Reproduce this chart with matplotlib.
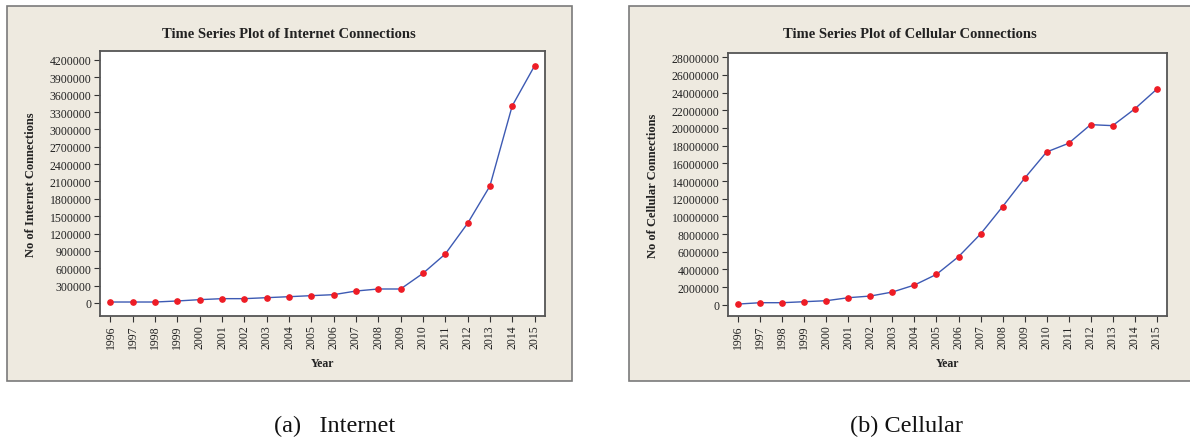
import matplotlib
matplotlib.use("Agg")
import matplotlib.pyplot as plt
from matplotlib.patches import Rectangle
from matplotlib.ticker import FuncFormatter

years = list(range(1996, 2016))
internet = [17000, 17000, 17000, 35000, 58000, 75000, 75000, 92000, 109000, 127000,
            144000, 207000, 242000, 242000, 512000, 846000, 1375000, 2020000, 3406000, 4097000]
cellular = [75000, 226000, 226000, 340000, 453000, 792000, 981000, 1434000, 2226000, 3434000,
            5434000, 8000000, 11094000, 14302000, 17283000, 18264000, 20377000, 20264000, 22151000, 24377000]

titles = ["Time Series Plot of Internet Connections", "Time Series Plot of Cellular Connections"]
ylabels = ["No of Internet Connections", "No of Cellular Connections"]
captions = ["(a)   Internet", "(b) Cellular"]

W, H = 1190, 439
plt.rcParams['font.family'] = ['Liberation Serif', 'DejaVu Serif']
fig = plt.figure(figsize=(W / 100, H / 100), dpi=100)
fig.patch.set_facecolor('white')

def rect(x0, y0, x1, y1):
    return [x0 / W, 1 - y1 / H, (x1 - x0) / W, (y1 - y0) / H]

BG = '#EEEAE0'
panels = [(7, 7, 572, 382), (629, 7, 1196, 382)]
axes_px = [(100, 52, 545, 317), (728, 54, 1167, 317)]
ylims = [(-224700, 4355000), (-1279000, 28487000)]
ysteps = [300000, 2000000]
ymaxs = [4200000, 28000000]
title_x = [289, 910]
caption_x = [335, 906]
ylabel_x = [31, 653]
data = [internet, cellular]

for i in range(2):
    px0, py0, px1, py1 = panels[i]
    fig.patches.append(Rectangle((px0 / W, 1 - py1 / H), (px1 - px0) / W, (py1 - py0) / H,
                                 transform=fig.transFigure, facecolor=BG,
                                 edgecolor='#7a7a7a', linewidth=1.2, zorder=-10))
    ax = fig.add_axes(rect(*axes_px[i]))
    ax.set_zorder(5)
    ax.set_facecolor('white')
    ax.plot(years, data[i], color='#3d5ab3', linewidth=1.0, zorder=2)
    ax.plot(years, data[i], linestyle='none', marker='o', markersize=3.8,
            color='#ee1c25', markeredgecolor='#ee1c25', zorder=3)
    ax.set_xlim(years[0] - 0.47, years[-1] + 0.47)
    ax.set_ylim(*ylims[i])
    ax.set_xticks(years)
    ax.set_xticklabels([str(y) for y in years], rotation=90)
    ax.set_yticks(list(range(0, ymaxs[i] + 1, ysteps[i])))
    ax.yaxis.set_major_formatter(FuncFormatter(lambda v, p: f"{int(round(v))}"))
    ax.tick_params(axis='both', direction='out', length=4, width=0.8, colors='#333333',
                   labelsize=8.5, labelcolor='#222222', pad=2)
    for s in ax.spines.values():
        s.set_color('#555555')
        s.set_linewidth(1.3)
    fig.text(title_x[i] / W, 1 - 35 / H, titles[i], fontsize=10.5, fontweight='bold',
             color='#222222', ha='center', va='center')
    fig.text(ylabel_x[i] / W, 1 - ((axes_px[i][1] + axes_px[i][3]) / 2) / H, ylabels[i],
             fontsize=9, fontweight='bold', color='#222222', rotation=90,
             ha='center', va='center')
    ax.set_xlabel('Year', fontsize=8.5, fontweight='bold', color='#222222', labelpad=6)
    fig.text(caption_x[i] / W, 1 - 426 / H, captions[i], fontsize=17.5, ha='center', va='center',
             color='#111111')

fig.savefig('out.png', dpi=100)
